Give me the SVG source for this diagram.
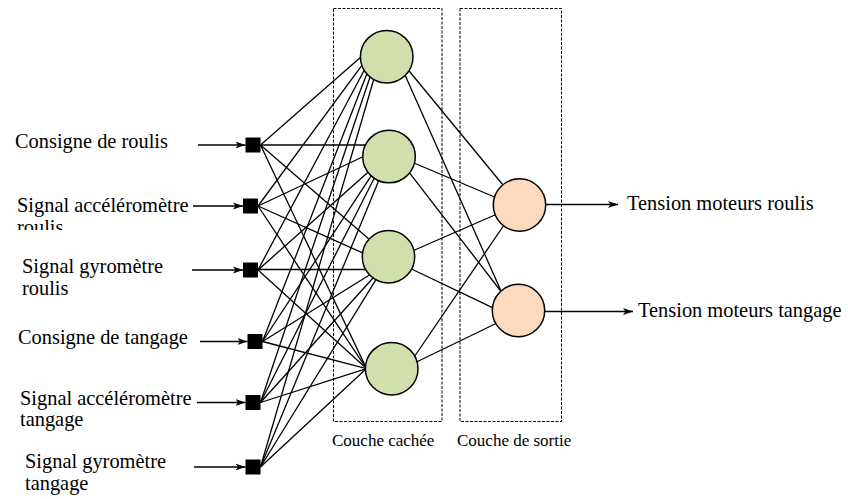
<svg xmlns="http://www.w3.org/2000/svg" width="848" height="499" viewBox="0 0 848 499">
<style>
.lbl{font-family:"Liberation Serif","Times New Roman",serif;font-size:20.4px;fill:#000}
.cap{font-family:"Liberation Serif","Times New Roman",serif;font-size:17px;fill:#000}
.w{stroke:#000;stroke-width:1.3;fill:none}
.arr{stroke:#000;stroke-width:1.4;fill:none;marker-end:url(#ah)}
.sq{fill:#000}
.hid{fill:#d0dfac;stroke:#000;stroke-width:1.5}
.out{fill:#fbdac0;stroke:#000;stroke-width:1.5}
.box{fill:none;stroke:#000;stroke-width:1;stroke-dasharray:3 1.5}
</style>
<defs>
<marker id="ah" markerUnits="userSpaceOnUse" markerWidth="10" markerHeight="8" refX="10" refY="4" orient="auto">
<path d="M0,0.5 L10,4 L0,7.5 L2.5,4 z" fill="#000"/>
</marker>
<clipPath id="clipR"><rect x="0" y="0" width="240" height="230"/></clipPath>
</defs>
<rect width="848" height="499" fill="#fff"/>

<g id="layers">
<rect class="box" x="333.5" y="8.5" width="108.5" height="413"/>
<rect class="box" x="460" y="8.5" width="101.5" height="413"/>
<text class="cap" x="332" y="446">Couche cachée</text>
<text class="cap" x="457" y="446">Couche de sortie</text>
</g>

<g id="connectors">
<!-- inputs to H1 -->
<path class="w" d="M260.5,145 L361.2,56.7"/>
<path class="w" d="M258,206 L362.45,64.6"/>
<path class="w" d="M258,270 L364.6,69.45"/>
<path class="w" d="M262.5,341.5 L367.2,73.1"/>
<path class="w" d="M260.5,402.5 L370.3,76.2"/>
<path class="w" d="M260.5,467 L373.95,78.8"/>
<!-- inputs to H2 -->
<path class="w" d="M260.5,145 L366.2,145"/>
<path class="w" d="M258,206 L363.5,156.5"/>
<path class="w" d="M258,270 L368.6,171.85"/>
<path class="w" d="M262.5,341.5 L371.6,175.15"/>
<path class="w" d="M260.5,402.5 L374.55,177.5"/>
<path class="w" d="M260.5,467 L379,180"/>
<!-- inputs to H3 -->
<path class="w" d="M260.5,145 L370,239.9"/>
<path class="w" d="M258,206 L363.7,253.35"/>
<path class="w" d="M258,269.5 L367,269.5"/>
<path class="w" d="M262.5,341.5 L370.7,274.3"/>
<path class="w" d="M260.5,402.5 L373.9,277"/>
<path class="w" d="M260.5,467 L376.6,278.7"/>
<!-- inputs to H4 -->
<path class="w" d="M260.5,145 L366.5,368.6"/>
<path class="w" d="M258,206 L366.5,368.6"/>
<path class="w" d="M258,270 L366.5,368.6"/>
<path class="w" d="M262.5,341.5 L366.5,368.6"/>
<path class="w" d="M260.5,402.5 L366.5,368.6"/>
<path class="w" d="M260.5,467 L366.5,368.6"/>
<!-- hidden to outputs -->
<path class="w" d="M408.3,70 L503,185"/>
<path class="w" d="M405,75 L501.5,292"/>
<path class="w" d="M414,163 L494.5,197"/>
<path class="w" d="M409.5,172.8 L501.5,292"/>
<path class="w" d="M413.5,250.5 L496,214.5"/>
<path class="w" d="M411.5,269 L493.5,308.2"/>
<path class="w" d="M414.5,356.5 L504,225"/>
<path class="w" d="M416.5,362 L496,323.5"/>
<!-- input arrows -->
<path class="arr" d="M198,145 L245.5,145"/>
<path class="arr" d="M193,206 L243,206"/>
<path class="arr" d="M192,270 L243,270"/>
<path class="arr" d="M200,341.5 L247.5,341.5"/>
<path class="arr" d="M197,402.5 L245.5,402.5"/>
<path class="arr" d="M194,467 L245.5,467"/>
<!-- output arrows -->
<path class="arr" d="M545.5,204.5 L618,204.5"/>
<path class="arr" d="M544.5,311.5 L633,311.5"/>
</g>

<g id="in1"><rect class="sq" x="245.5" y="137.5" width="15" height="15"/><text class="lbl" x="15" y="148">Consigne de roulis</text></g>
<g id="in2"><rect class="sq" x="243" y="198.5" width="15" height="15"/><text class="lbl" x="17" y="211.5">Signal accéléromètre</text><text class="lbl" x="17" y="233.5" clip-path="url(#clipR)">roulis</text></g>
<g id="in3"><rect class="sq" x="243" y="262.5" width="15" height="15"/><text class="lbl" x="22" y="273">Signal gyromètre</text><text class="lbl" x="22" y="295">roulis</text></g>
<g id="in4"><rect class="sq" x="247.5" y="334" width="15" height="15"/><text class="lbl" x="18" y="344">Consigne de tangage</text></g>
<g id="in5"><rect class="sq" x="245.5" y="395" width="15" height="15"/><text class="lbl" x="20" y="405">Signal accéléromètre</text><text class="lbl" x="20" y="426">tangage</text></g>
<g id="in6"><rect class="sq" x="245.5" y="459.5" width="15" height="15"/><text class="lbl" x="25" y="468">Signal gyromètre</text><text class="lbl" x="25" y="490">tangage</text></g>

<g id="h1"><circle class="hid" cx="386.7" cy="56.7" r="26.3"/></g>
<g id="h2"><circle class="hid" cx="389" cy="156.5" r="26.3"/></g>
<g id="h3"><circle class="hid" cx="388.5" cy="256.7" r="26.2"/></g>
<g id="h4"><circle class="hid" cx="391.7" cy="368.7" r="26.3"/></g>

<g id="o1"><circle class="out" cx="519.5" cy="205" r="26.2"/><text class="lbl" x="627" y="210">Tension moteurs roulis</text></g>
<g id="o2"><circle class="out" cx="518.5" cy="310.5" r="26.2"/><text class="lbl" x="638" y="317">Tension moteurs tangage</text></g>
</svg>
